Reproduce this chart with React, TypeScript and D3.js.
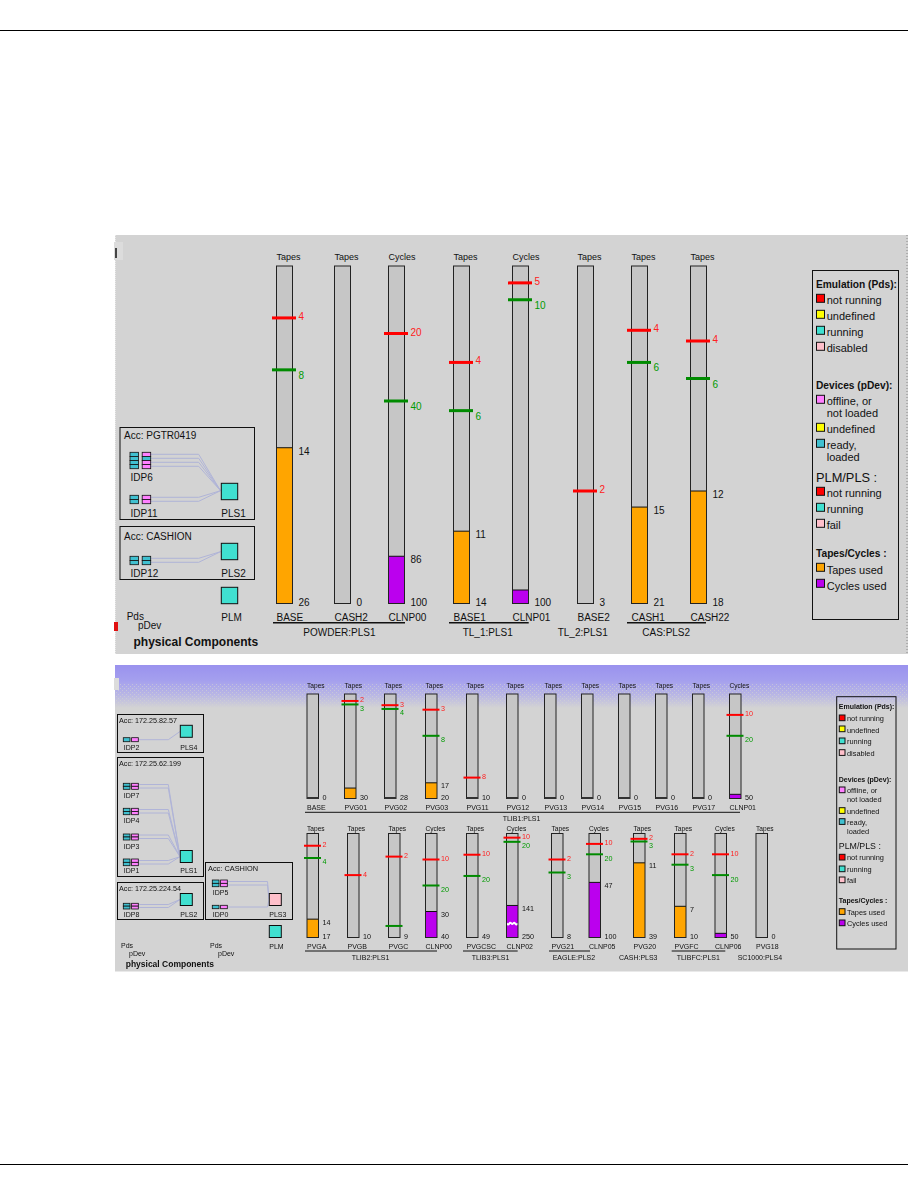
import React from 'react';
import * as d3 from 'd3';

// gauge data, one block per row. Scale runs from 0 at the top to max at the bottom.
const topLabels = ['BASE', 'CASH2', 'CLNP00', 'BASE1', 'CLNP01', 'BASE2', 'CASH1', 'CASH22'];
const topUnits = ['Tapes', 'Tapes', 'Cycles', 'Tapes', 'Cycles', 'Tapes', 'Tapes', 'Tapes'];
const topMax = [26, 0, 100, 14, 100, 3, 21, 18];
const topUsed = [14, null, 86, 11, 96, null, 15, 12];
const topUsedText = [14, null, 86, 11, null, null, 15, 12];
const topRed = [4, null, 20, 4, 5, 2, 4, 4];
const topGreen = [8, null, 40, 6, 10, null, 6, 6];

const midLabels = ['BASE', 'PVG01', 'PVG02', 'PVG03', 'PVG11', 'PVG12', 'PVG13', 'PVG14', 'PVG15', 'PVG16', 'PVG17', 'CLNP01'];
const midUnits = ['Tapes', 'Tapes', 'Tapes', 'Tapes', 'Tapes', 'Tapes', 'Tapes', 'Tapes', 'Tapes', 'Tapes', 'Tapes', 'Cycles'];
const midMax = [0, 30, 28, 20, 10, 0, 0, 0, 0, 0, 0, 50];
const midUsed = [null, 27, null, 17, null, null, null, null, null, null, null, 48];
const midUsedText = [null, null, null, 17, null, null, null, null, null, null, null, null];
const midRed = [null, 2, 3, 3, 8, null, null, null, null, null, null, 10];
const midGreen = [null, 3, 4, 8, null, null, null, null, null, null, null, 20];

const lowLabels = ['PVGA', 'PVGB', 'PVGC', 'CLNP00', 'PVGCSC', 'CLNP02', 'PVG21', 'CLNP05', 'PVG20', 'PVGFC', 'CLNP06', 'PVG18'];
const lowUnits = ['Tapes', 'Tapes', 'Tapes', 'Cycles', 'Tapes', 'Cycles', 'Tapes', 'Cycles', 'Tapes', 'Tapes', 'Cycles', 'Tapes'];
const lowMax = [17, 10, 9, 40, 49, 250, 8, 100, 39, 10, 50, 0];
// CLNP02 has a broken axis, 141 is drawn where 173 would be
const lowUsed = [14, null, null, 30, null, 173, null, 47, 11, 7, 48, null];
const lowUsedText = [14, null, null, 30, null, 141, null, 47, 11, 7, null, null];
const lowRed = [2, 4, 2, 10, 10, 10, 2, 10, 2, 2, 10, null];
const lowGreen = [4, null, 8, 20, 20, 20, 3, 20, 3, 3, 20, null];
const lowGreenHidden = ['PVGC'];
const lowBreak = { label: 'CLNP02', value: 216 };

const COLORS = {
  panel: '#d3d3d3', bar: '#c6c6c6', red: '#ff0000', redText: '#ff2020', green: '#008b00', greenText: '#009a00',
  yellow: '#ffff00', run: '#40e0d0', pink: '#ffc0cb', off: '#ff80ff', ready: '#40c0d0',
  tapes: '#ffa500', cycles: '#bb00ee', wire: '#b0b4d8',
};

// pixel layout of each row
const topBars = [276.5, 334.5, 388.5, 453.5, 512.5, 577.5, 631.5, 690.5];
const midBars = [307, 344.5, 384.5, 425.5, 466.5, 506.5, 544.5, 581.5, 618.5, 655.5, 692.5, 729.5];
const lowBars = [307, 347.5, 388.5, 425.5, 466.5, 506.5, 551.5, 589, 633.5, 674.5, 715, 756];

const rows = [
  {
    labels: topLabels, units: topUnits, max: topMax, used: topUsed, usedText: topUsedText, red: topRed, green: topGreen, bars: topBars,
    y0: 266, y1: 603.5, w: 16, unitY: 260, unitFs: 9, nameY: 620.7, nameFs: 10, valFs: 10, gap: 6, over: [4.5, 3.5], sw: 3,
    off: { red: 2, green: 9, used: 7, end: 2 }, edge: 1,
  },
  {
    labels: midLabels, units: midUnits, max: midMax, used: midUsed, usedText: midUsedText, red: midRed, green: midGreen, bars: midBars,
    y0: 694, y1: 798.5, w: 11.5, unitY: 688.3, unitFs: 6.6, nameY: 810, nameFs: 7, valFs: 7.2, gap: 4, over: [3, 2.5], sw: 2,
    off: { red: 1.5, green: 6.5, used: 5.5, end: 1 }, edge: 2,
  },
  {
    labels: lowLabels, units: lowUnits, max: lowMax, used: lowUsed, usedText: lowUsedText, red: lowRed, green: lowGreen, bars: lowBars,
    y0: 833.5, y1: 937.5, w: 11.5, unitY: 831, unitFs: 6.6, nameY: 949.3, nameFs: 7, valFs: 7.2, gap: 4, over: [3, 2.5], sw: 2,
    off: { red: 1.5, green: 6.5, used: 5.5, end: 1 }, edge: 1,
  },
];

const groupTexts = [
  { t: 'POWDER:PLS1', x: 303.3, y: 636, fs: 10, line: [273, 405], ly: 622.7 },
  { t: 'TL_1:PLS1', x: 462.7, y: 636, fs: 10, line: [449, 528.7], ly: 622.7 },
  { t: 'TL_2:PLS1', x: 557.7, y: 636, fs: 10 },
  { t: 'CAS:PLS2', x: 642.3, y: 636, fs: 10, line: [627, 706], ly: 622.7 },
  { t: 'TLIB1:PLS1', x: 502.7, y: 820.7, fs: 7, line: [305, 740], ly: 812.3 },
  { t: 'TLIB2:PLS1', x: 351.7, y: 960, fs: 7, line: [305, 437], ly: 951 },
  { t: 'TLIB3:PLS1', x: 471.7, y: 960, fs: 7, line: [463, 517.7], ly: 951 },
  { t: 'EAGLE:PLS2', x: 552.7, y: 960, fs: 7, line: [549, 590], ly: 951 },
  { t: 'CASH:PLS3', x: 619, y: 960, fs: 7 },
  { t: 'TLIBFC:PLS1', x: 676.7, y: 960, fs: 7, line: [671.7, 725.3], ly: 951 },
  { t: 'SC1000:PLS4', x: 737.7, y: 960, fs: 7 },
];

// legend entries: y values of the big legend and the small one
const legendHeads = ['Emulation (Pds):', 'Devices (pDev):', 'PLM/PLS :', 'Tapes/Cycles :'];
const legendItems: [string, string, string?][] = [
  ['not running', COLORS.red], ['undefined', COLORS.yellow], ['running', COLORS.run], ['disabled', COLORS.pink],
  ['offline, or', COLORS.off, 'not loaded'], ['undefined', COLORS.yellow], ['ready,', COLORS.ready, 'loaded'],
  ['not running', COLORS.red], ['running', COLORS.run], ['fail', COLORS.pink],
  ['Tapes used', COLORS.tapes], ['Cycles used', COLORS.cycles],
];
const legends = [
  {
    box: [812.5, 270.5, 86, 349], sx: 816.5, tx: 826.7, sw: 8, fs: 11, hfs: 10.2, plmFs: 12.8,
    heads: [288.3, 389, 481.7, 557.3],
    swatch: [294.3, 310.3, 326.3, 342.3, 395.3, 423.3, 439.3, 487.3, 503.3, 519.3, 563.3, 579.3],
    base: [304, 320, 336, 352, 405, 433.3, 449.3, 497, 513, 529, 573.5, 589.5],
    second: [0, 0, 0, 0, 417, 0, 461, 0, 0, 0, 0, 0],
  },
  {
    box: [836.7, 696.7, 59.3, 252.3], sx: 839.3, tx: 847, sw: 5.7, fs: 7.4, hfs: 7, plmFs: 8.8,
    heads: [709, 781.7, 849.3, 903.3],
    swatch: [715, 726, 738, 749.7, 787, 807.7, 818.7, 854.3, 866, 877, 908.7, 920],
    base: [721, 732.7, 744, 755.7, 793.3, 813.7, 825, 860, 871.7, 882.7, 914.7, 926],
    second: [0, 0, 0, 0, 802, 0, 834.3, 0, 0, 0, 0, 0],
  },
];

// left hand component diagrams
const boxes = [
  { x: 120, y: 427.5, w: 134.5, h: 92, t: 'Acc: PGTR0419', tx: 124, ty: 438.7, fs: 10 },
  { x: 120, y: 526.5, w: 134.5, h: 53, t: 'Acc: CASHION', tx: 124, ty: 540, fs: 10 },
  { x: 117.5, y: 714.5, w: 86, h: 38, t: 'Acc: 172.25.82.57', tx: 119, ty: 722.7, fs: 7.2 },
  { x: 117.5, y: 757.5, w: 86, h: 119, t: 'Acc: 172.25.62.199', tx: 119, ty: 765.7, fs: 7.2 },
  { x: 117.5, y: 882.5, w: 86, h: 37, t: 'Acc: 172.25.224.54', tx: 119, ty: 890.7, fs: 7.2 },
  { x: 205.5, y: 862.5, w: 87, h: 57, t: 'Acc: CASHION', tx: 208, ty: 870.7, fs: 7.4 },
];
const devices = [
  { name: 'IDP6', x: 130, y: 452.3, rows: 4, h: 16.4, w: 8.5, gap: 3.7, ly: 480.7, fs: 10, right: 'offOn', to: [220.5, 490.7], bend: 198.7, wires: [454.3, 458.3, 462.3, 466.3] },
  { name: 'IDP11', x: 130, y: 495.3, rows: 2, h: 8.4, w: 8.5, gap: 3.7, ly: 516.7, fs: 10, right: 'off', to: [220.5, 490.7], bend: 198.7, wires: [497.3, 501.3] },
  { name: 'IDP12', x: 130, y: 556.3, rows: 2, h: 8.4, w: 8.5, gap: 3.7, ly: 576.7, fs: 10, right: 'ready', to: [220.5, 551.7], bend: 198.7, wires: [558.3, 562.3] },
  { name: 'IDP2', x: 123.3, y: 737.7, rows: 1, h: 4, w: 6.7, gap: 1.6, ly: 750, fs: 7, right: 'off', to: [180, 731.5], bend: 168.3, wires: [739.7] },
  { name: 'IDP7', x: 123.3, y: 783.3, rows: 2, h: 6, w: 6.7, gap: 1.6, ly: 797.7, fs: 7, right: 'off', to: [180, 856.7], bend: 168.3, wires: [784.5, 788] },
  { name: 'IDP4', x: 123.3, y: 808.3, rows: 2, h: 6.4, w: 6.7, gap: 1.6, ly: 823.3, fs: 7, right: 'off', to: [180, 856.7], bend: 168.3, wires: [809.5, 813] },
  { name: 'IDP3', x: 123.3, y: 834, rows: 2, h: 6, w: 6.7, gap: 1.6, ly: 848.7, fs: 7, right: 'off', to: [180, 856.7], bend: 168.3, wires: [835, 838.5] },
  { name: 'IDP1', x: 123.3, y: 859, rows: 2, h: 6.7, w: 6.7, gap: 1.6, ly: 873.3, fs: 7, right: 'off', to: [180, 856.7], bend: 168.3, wires: [860.5, 864] },
  { name: 'IDP8', x: 123.3, y: 903.3, rows: 2, h: 5.7, w: 6.7, gap: 1.6, ly: 916.7, fs: 7, right: 'off', to: [180, 899.5], bend: 168.3, wires: [904.5, 907.5] },
  { name: 'IDP5', x: 212.3, y: 880, rows: 2, h: 6.7, w: 6.7, gap: 1.6, ly: 895.3, fs: 7, right: 'off', to: [269, 899.5], bend: 267.5, wires: [881.5, 885] },
  { name: 'IDP0', x: 212.3, y: 905.3, rows: 1, h: 3.4, w: 6.7, gap: 1.6, ly: 916.7, fs: 7, right: 'off', to: [269, 899.5], bend: 267.5, wires: [907] },
];
const squares = [
  { t: 'PLS1', x: 221.3, y: 483.3, s: 16.4, ly: 516.7, fs: 10, fill: COLORS.run },
  { t: 'PLS2', x: 221.3, y: 543.3, s: 16.4, ly: 576.7, fs: 10, fill: COLORS.run },
  { t: 'PLM', x: 221.3, y: 587.3, s: 16.4, ly: 620.7, fs: 10, fill: COLORS.run },
  { t: 'PLS4', x: 180.3, y: 725.3, s: 12, ly: 750, fs: 7, fill: COLORS.run },
  { t: 'PLS1', x: 180.3, y: 850.5, s: 12, ly: 873.3, fs: 7, fill: COLORS.run },
  { t: 'PLS2', x: 180.3, y: 893.5, s: 12, ly: 916.7, fs: 7, fill: COLORS.run },
  { t: 'PLS3', x: 269.3, y: 893.5, s: 12, ly: 916.7, fs: 7, fill: COLORS.pink },
  { t: 'PLM', x: 269.3, y: 925.5, s: 12, ly: 949.3, fs: 7, fill: COLORS.run },
];
const notes = [
  { t: 'Pds', x: 126.7, y: 620, fs: 10 },
  { t: 'pDev', x: 138, y: 629, fs: 10 },
  { t: 'physical Components', x: 133.5, y: 646, fs: 12, bold: true },
  { t: 'Pds', x: 121, y: 948, fs: 7 },
  { t: 'pDev', x: 129, y: 955.7, fs: 7 },
  { t: 'Pds', x: 210, y: 948, fs: 7 },
  { t: 'pDev', x: 218, y: 955.7, fs: 7 },
  { t: 'physical Components', x: 125.7, y: 967.3, fs: 8.5, bold: true },
];

const App: React.FC = () => {
  const ref = React.useRef<SVGSVGElement>(null);

  React.useEffect(() => {
    const root = d3.select(ref.current);
    root.selectAll('*').remove();

    const defs = root.append('defs');
    const grad = defs.append('linearGradient').attr('id', 'sky').attr('x1', 0).attr('x2', 0).attr('y1', 0).attr('y2', 1);
    grad.append('stop').attr('offset', '0%').attr('stop-color', '#9a92ee');
    grad.append('stop').attr('offset', '35%').attr('stop-color', '#a49fee');
    grad.append('stop').attr('offset', '70%').attr('stop-color', '#b9b7e4');
    grad.append('stop').attr('offset', '100%').attr('stop-color', COLORS.panel);
    defs.append('filter').attr('id', 'soft').attr('x', 0).attr('y', 0).attr('width', 1).attr('height', 1)
      .append('feGaussianBlur').attr('stdDeviation', 0.42);
    // sparse dots that stand in for the dithering at the foot of the gradient
    const dither = defs.append('pattern').attr('id', 'dither').attr('width', 4).attr('height', 4).attr('patternUnits', 'userSpaceOnUse');
    dither.append('rect').attr('width', 1).attr('height', 1).attr('fill', COLORS.panel);
    dither.append('rect').attr('x', 2).attr('y', 2).attr('width', 1).attr('height', 1).attr('fill', COLORS.panel);

    // page rules
    [30.5, 1164.5].forEach((y) => {
      root.append('line').attr('x1', 0).attr('x2', 908).attr('y1', y).attr('y2', y).attr('stroke', '#000').attr('stroke-width', 1.2);
    });

    // panels
    root.append('rect').attr('x', 115).attr('y', 235).attr('width', 793).attr('height', 419).attr('fill', COLORS.panel);
    root.append('line').attr('x1', 115).attr('x2', 115).attr('y1', 235).attr('y2', 654)
      .attr('stroke', '#fff').attr('stroke-dasharray', '1,1');
    root.append('line').attr('x1', 907).attr('x2', 907).attr('y1', 235).attr('y2', 654)
      .attr('stroke', '#888').attr('stroke-dasharray', '1,2');
    root.append('rect').attr('x', 114).attr('y', 242).attr('width', 9).attr('height', 18).attr('fill', '#dcdcdc');
    root.append('rect').attr('x', 115).attr('y', 248).attr('width', 2).attr('height', 10).attr('fill', '#444');
    root.append('rect').attr('x', 114).attr('y', 622).attr('width', 4).attr('height', 9).attr('fill', '#e01010');

    const upper = root.append('g');
    const lower = root.append('g').attr('filter', 'url(#soft)');
    lower.append('rect').attr('x', 115).attr('y', 665).attr('width', 793).attr('height', 306.5).attr('fill', COLORS.panel);
    lower.append('rect').attr('x', 115).attr('y', 665).attr('width', 793).attr('height', 43).attr('fill', 'url(#sky)');
    lower.append('rect').attr('x', 115).attr('y', 684).attr('width', 793).attr('height', 24).attr('fill', 'url(#dither)').attr('opacity', 0.6);
    lower.append('rect').attr('x', 114).attr('y', 678).attr('width', 5).attr('height', 12).attr('fill', '#dcdcdc');

    const layer = (y: number) => (y > 660 ? lower : upper);
    const text = (g: any, t: string, x: number, y: number, fs: number, fill = '#111', bold = false) =>
      g.append('text').attr('x', x).attr('y', y).attr('font-size', fs)
        .attr('font-family', '"Liberation Sans", Arial, sans-serif')
        .attr('font-weight', bold ? 700 : 400).attr('fill', fill).text(t);

    // gauges
    rows.forEach((row) => {
      const g = layer(row.y0);
      row.labels.forEach((label, i) => {
        const x0 = row.bars[i];
        const x1 = x0 + row.w;
        const y = d3.scaleLinear().domain([0, row.max[i] || 1]).range([row.y0, row.y1]);
        const isCycles = row.units[i] === 'Cycles';

        text(g, row.units[i], x0, row.unitY, row.unitFs);
        text(g, label, x0, row.nameY, row.nameFs);

        g.append('rect').attr('x', x0).attr('y', row.y0).attr('width', row.w).attr('height', row.y1 - row.y0).attr('fill', COLORS.bar);
        const used = row.used[i];
        if (used !== null) {
          g.append('rect').attr('x', x0).attr('y', y(used)).attr('width', row.w).attr('height', row.y1 - y(used))
            .attr('fill', isCycles ? COLORS.cycles : COLORS.tapes);
          g.append('line').attr('x1', x0).attr('x2', x1).attr('y1', y(used)).attr('y2', y(used)).attr('stroke', '#111');
        }
        if (label === lowBreak.label && row.labels === lowLabels) {
          const wave = d3.line<number>()
            .x((_, k) => x0 + (k * row.w) / 6)
            .y((d) => y(lowBreak.value) + d)
            .curve(d3.curveBasis);
          g.append('path').attr('d', wave([0, 2, -2, 2, -2, 2, 0])).attr('fill', 'none').attr('stroke', '#fff').attr('stroke-width', 2);
        }
        g.append('rect').attr('x', x0).attr('y', row.y0).attr('width', row.w).attr('height', row.y1 - row.y0)
          .attr('fill', 'none').attr('stroke', '#222').attr('stroke-width', 1);
        if (row.edge > 1 && used === null) {
          g.append('line').attr('x1', x0).attr('x2', x1).attr('y1', row.y1 - 0.5).attr('y2', row.y1 - 0.5)
            .attr('stroke', '#333').attr('stroke-width', row.edge);
        }

        const lx = x1 + row.gap;
        const red = row.red[i];
        if (red !== null) {
          g.append('line').attr('x1', x0 - row.over[0]).attr('x2', x1 + row.over[1]).attr('y1', y(red)).attr('y2', y(red))
            .attr('stroke', COLORS.red).attr('stroke-width', row.sw);
          text(g, String(red), lx, y(red) + row.off.red, row.valFs, COLORS.redText);
        }
        const green = row.green[i];
        if (green !== null) {
          g.append('line').attr('x1', x0 - row.over[0]).attr('x2', x1 + row.over[1]).attr('y1', y(green)).attr('y2', y(green))
            .attr('stroke', COLORS.green).attr('stroke-width', row.sw);
          if (!(row.labels === lowLabels && lowGreenHidden.includes(label))) {
            text(g, String(green), lx, y(green) + row.off.green, row.valFs, COLORS.greenText);
          }
        }
        const usedText = row.usedText[i];
        if (usedText !== null && used !== null) {
          text(g, String(usedText), lx, y(used) + row.off.used, row.valFs);
        }
        text(g, String(row.max[i]), lx, row.y1 + row.off.end, row.valFs);
      });
    });

    // group names and their underlines
    groupTexts.forEach((d) => {
      const g = layer(d.y);
      text(g, d.t, d.x, d.y, d.fs);
      if (d.line) {
        g.append('line').attr('x1', d.line[0]).attr('x2', d.line[1]).attr('y1', d.ly as number).attr('y2', d.ly as number)
          .attr('stroke', '#111').attr('stroke-width', d.fs > 8 ? 1.5 : 1);
      }
    });

    // legends
    legends.forEach((lg) => {
      const g = layer(lg.box[1]);
      g.append('rect').attr('x', lg.box[0]).attr('y', lg.box[1]).attr('width', lg.box[2]).attr('height', lg.box[3])
        .attr('fill', 'none').attr('stroke', '#111');
      legendHeads.forEach((h, i) => {
        text(g, h, lg.sx - 0.5, lg.heads[i], i === 2 ? lg.plmFs : lg.hfs, '#111', i !== 2);
      });
      legendItems.forEach(([name, color, extra], i) => {
        g.append('rect').attr('x', lg.sx).attr('y', lg.swatch[i]).attr('width', lg.sw).attr('height', lg.sw)
          .attr('fill', color).attr('stroke', '#111');
        text(g, name, lg.tx, lg.base[i], lg.fs);
        if (extra) text(g, extra, lg.tx, lg.second[i], lg.fs);
      });
    });

    // component boxes
    boxes.forEach((b) => {
      const g = layer(b.y);
      g.append('rect').attr('x', b.x).attr('y', b.y).attr('width', b.w).attr('height', b.h).attr('fill', 'none').attr('stroke', '#111');
      text(g, b.t, b.tx, b.ty, b.fs);
    });

    const wirePath = d3.line();
    devices.forEach((d) => {
      const g = layer(d.y);
      const xr = d.x + d.w + d.gap;
      d.wires.forEach((wy) => {
        g.append('path').attr('d', wirePath([[xr + d.w, wy], [d.bend, wy], d.to as [number, number]]))
          .attr('fill', 'none').attr('stroke', COLORS.wire).attr('stroke-width', 1);
      });
      const cell = d.h / d.rows;
      d3.range(d.rows).forEach((k) => {
        const rightFill = d.right === 'ready' ? COLORS.ready : d.right === 'offOn' && k === 1 ? COLORS.ready : COLORS.off;
        g.append('rect').attr('x', d.x).attr('y', d.y + k * cell).attr('width', d.w).attr('height', cell)
          .attr('fill', COLORS.ready).attr('stroke', '#111').attr('stroke-width', 0.8);
        g.append('rect').attr('x', xr).attr('y', d.y + k * cell).attr('width', d.w).attr('height', cell)
          .attr('fill', rightFill).attr('stroke', '#111').attr('stroke-width', 0.8);
      });
      text(g, d.name, d.x + 0.5, d.ly, d.fs);
    });

    squares.forEach((s) => {
      const g = layer(s.y);
      g.append('rect').attr('x', s.x).attr('y', s.y).attr('width', s.s).attr('height', s.s).attr('fill', s.fill).attr('stroke', '#111');
      text(g, s.t, s.x, s.ly, s.fs);
    });

    notes.forEach((n) => text(layer(n.y), n.t, n.x, n.y, n.fs, '#111', !!n.bold));
  }, []);

  return <svg ref={ref} width={908} height={1196} style={{ position: 'absolute', left: 0, top: 0, background: '#fff' }} />;
};

export default App;
